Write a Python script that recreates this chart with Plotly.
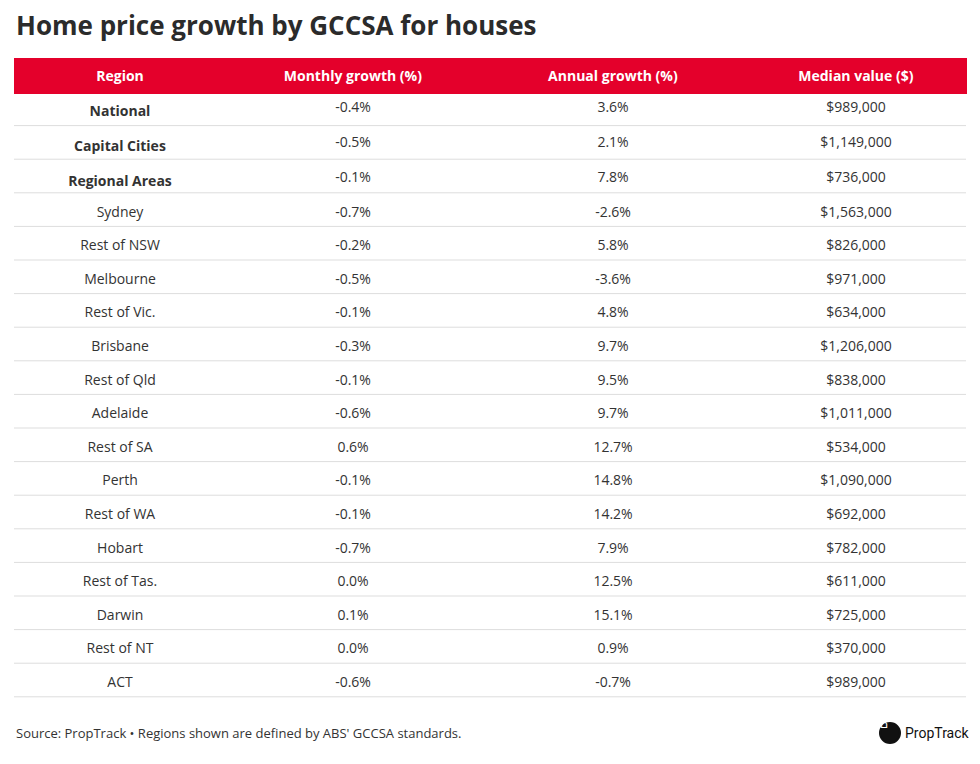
import plotly.graph_objects as go

regions = ['National', 'Capital Cities', 'Regional Areas', 'Sydney', 'Rest of NSW', 'Melbourne',
           'Rest of Vic.', 'Brisbane', 'Rest of Qld', 'Adelaide', 'Rest of SA', 'Perth', 'Rest of WA',
           'Hobart', 'Rest of Tas.', 'Darwin', 'Rest of NT', 'ACT']
monthly = [-0.4, -0.5, -0.1, -0.7, -0.2, -0.5, -0.1, -0.3, -0.1, -0.6, 0.6, -0.1, -0.1, -0.7, 0.0, 0.1, 0.0, -0.6]
annual = [3.6, 2.1, 7.8, -2.6, 5.8, -3.6, 4.8, 9.7, 9.5, 9.7, 12.7, 14.8, 14.2, 7.9, 12.5, 15.1, 0.9, -0.7]
median = [989000, 1149000, 736000, 1563000, 826000, 971000, 634000, 1206000, 838000, 1011000,
          534000, 1090000, 692000, 782000, 611000, 725000, 370000, 989000]
headers = ['Region', 'Monthly growth (%)', 'Annual growth (%)', 'Median value ($)']
bold_rows = 3

W, H = 980, 764
off = 8  # page body margin
top, hdr_h, row_h = 58 - off, 34, 33.6
x0, x1 = 14 - off, 966 - off
font = 'Open Sans'
red = '#E4002B'
txt = '#333333'

region_txt = [f'<b>{r}</b>' if i < bold_rows else r for i, r in enumerate(regions)]

fig = go.Figure(go.Table(
    domain=dict(x=[x0 / W, x1 / W], y=[0.0, 1 - top / H]),
    columnwidth=[212, 254, 266, 220],
    header=dict(values=[f'<b>{h}</b>' for h in headers], fill_color=red, line_color=red,
                font=dict(family=font, size=14, color='white'), align='center', height=hdr_h),
    cells=dict(values=[region_txt, [f'{v:.1f}%' for v in monthly], [f'{v:.1f}%' for v in annual],
                       [f'${v:,.0f}' for v in median]],
               fill_color='white', line_color='white',
               font=dict(family=font, size=14, color=txt), align='center', height=row_h)))

# horizontal row separators
for k in range(1, len(regions) + 1):
    y = 1 - (top + hdr_h + row_h * k) / H
    fig.add_shape(type='line', xref='paper', yref='paper', x0=x0 / W, x1=x1 / W, y0=y, y1=y,
                  line=dict(color='#DDDDDD', width=1))

fig.add_annotation(text='<b>Home price growth by GCCSA for houses</b>', x=x0 / W, y=1 - (25 - off) / H,
                   xref='paper', yref='paper', xanchor='left', yanchor='middle', showarrow=False,
                   font=dict(family=font, size=26, color='#2b2b2b'))
fig.add_annotation(text="Source: PropTrack • Regions shown are defined by ABS' GCCSA standards.",
                   x=x0 / W, y=1 - (733 - off) / H, xref='paper', yref='paper', xanchor='left',
                   yanchor='middle', showarrow=False, font=dict(family=font, size=13, color=txt))
# logo
cy = 733 - off
fig.add_shape(type='circle', xref='paper', yref='paper', x0=(880 - off) / W, x1=(900 - off) / W,
              y0=1 - (cy + 10) / H, y1=1 - (cy - 10) / H, fillcolor='#111111', line=dict(color='#111111'))
fig.add_annotation(text='⌂', x=(890 - off) / W, y=1 - cy / H, xref='paper', yref='paper', showarrow=False,
                   font=dict(family='DejaVu Sans', size=13, color='white'))
fig.add_annotation(text='PropTrack', x=(903 - off) / W, y=1 - cy / H, xref='paper', yref='paper',
                   xanchor='left', yanchor='middle', showarrow=False,
                   font=dict(family='Roboto', size=14, color='#111111'))

fig.update_layout(width=W, height=H, margin=dict(l=0, r=0, t=0, b=0),
                  paper_bgcolor='white', plot_bgcolor='white')
fig.write_html('out.html')
